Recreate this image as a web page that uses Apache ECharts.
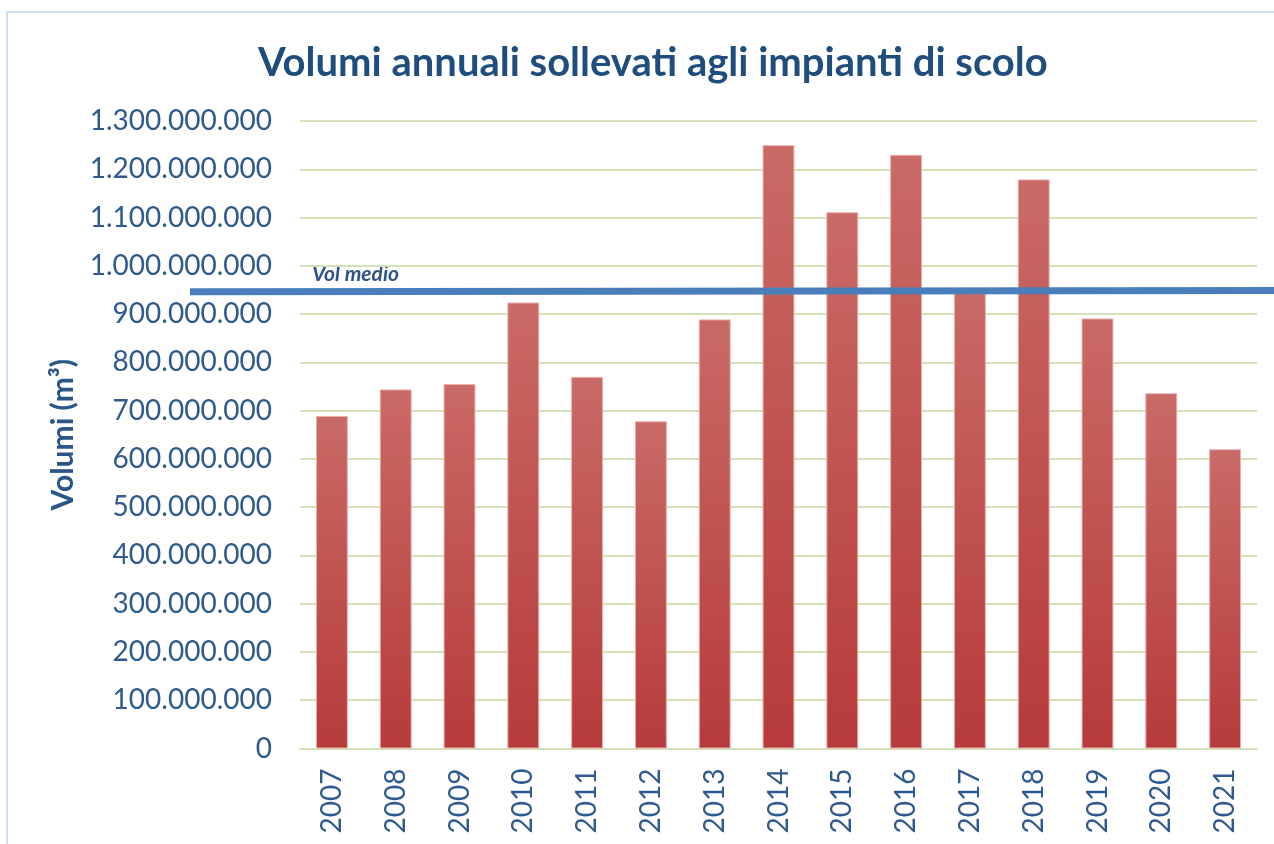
<!DOCTYPE html>
<html><head><meta charset="utf-8">
<script src="https://cdn.jsdelivr.net/npm/echarts@6/dist/echarts.min.js"></script>
<style>html,body{margin:0;padding:0;background:#fff}#c{width:1274px;height:844px}</style>
</head><body><div id="c"></div>
<script>
const years = ['2007','2008','2009','2010','2011','2012','2013','2014','2015','2016','2017','2018','2019','2020','2021'];
const volumes = [689e6, 744e6, 755e6, 924e6, 770e6, 678e6, 889e6, 1250e6, 1111e6, 1230e6, 950e6, 1179e6, 891e6, 736e6, 620e6];
const meanLine = [[0, 946e6], [1, 949e6]];
const meanLabel = 'Vol medio';
const titleText = 'Volumi annuali sollevati agli impianti di scolo';
const yName = 'Volumi (m³)';

const FONT = 'Lato';
const labelColor = '#2f5a8f';
function fmt(v){ return String(Math.round(v)).replace(/\B(?=(\d{3})+(?!\d))/g, '.'); }

const chart = echarts.init(document.getElementById('c'), null, {renderer:'canvas'});
chart.setOption({
  animation:false,
  backgroundColor:'#fff',
  title:{ text:titleText, left:253, top:38, textStyle:{ fontFamily:FONT, fontWeight:'bold', fontSize:40, color:'#1f4e7e' } },
  grid:[
    { left:300, right:17, top:121, bottom:95.5, containLabel:false },
    { left:190, right:0, top:121, bottom:95.5, containLabel:false }
  ],
  xAxis:[
    { type:'category', data:years, gridIndex:0,
      axisLine:{ lineStyle:{ color:'#d3e2b8', width:2 } }, axisTick:{ show:false },
      axisLabel:{ rotate:90, margin:20, fontFamily:FONT, fontSize:28, color:labelColor } },
    { type:'value', gridIndex:1, min:0, max:1, show:false }
  ],
  yAxis:[
    { type:'value', gridIndex:0, min:0, max:1300e6, interval:100e6,
      name:yName, nameLocation:'middle', nameGap:222, nameRotate:90,
      nameTextStyle:{ fontFamily:FONT, fontWeight:'bold', fontSize:30, color:'#2a5788' },
      axisLine:{ show:false }, axisTick:{ show:false },
      splitLine:{ lineStyle:{ color:'#d3e2b8', width:2 } },
      axisLabel:{ margin:28, fontFamily:FONT, fontSize:28, color:labelColor, formatter:fmt } },
    { type:'value', gridIndex:1, min:0, max:1300e6, show:false }
  ],
  series:[
    { type:'bar', xAxisIndex:0, yAxisIndex:0, data:volumes, barWidth:'50%',
      itemStyle:{ borderColor:'#eab0ae', borderWidth:1,
        color:new echarts.graphic.LinearGradient(0,0,0,1,[{offset:0,color:'#c96a66'},{offset:1,color:'#b63b3a'}]) } },
    { type:'line', xAxisIndex:1, yAxisIndex:1, data:meanLine, symbol:'none', z:5,
      lineStyle:{ color:'#4a7ebb', width:7 } }
  ],
  graphic:[
    { type:'rect', shape:{ x:7, y:12, width:1300, height:900 }, style:{ fill:'none', stroke:'#cfdff2', lineWidth:2 }, silent:true },
    { type:'text', left:312, top:264, style:{ text:meanLabel, fontFamily:FONT, fontStyle:'italic', fontWeight:'bold', fontSize:21, fill:'#2d5486' } }
  ]
});
</script></body></html>
